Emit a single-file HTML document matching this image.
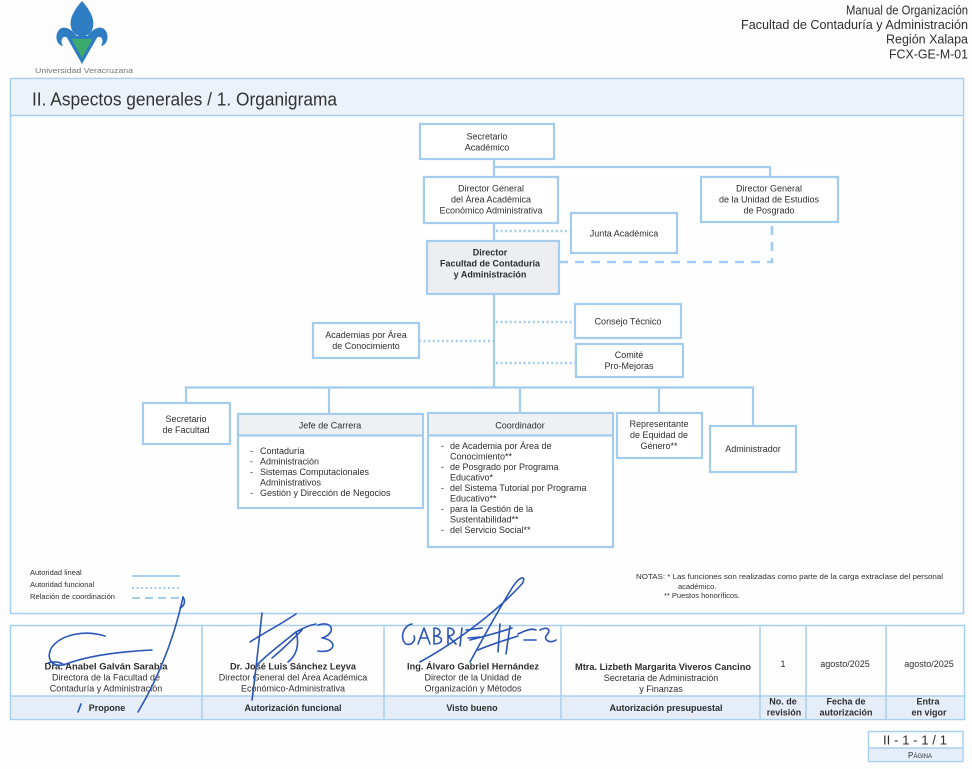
<!DOCTYPE html>
<html><head><meta charset="utf-8">
<style>
html,body{margin:0;padding:0;background:#fdfdfd;}
svg{display:block;}
text{font-family:"Liberation Sans",Arial,sans-serif;fill:#2e2e2e;}
.b{font-weight:bold;}
.box{fill:#fff;stroke:#a3ccef;stroke-width:2.2;}
.ln{stroke:#a3ccef;stroke-width:2.2;fill:none;}
.dot{stroke:#a3ccef;stroke-width:2.6;fill:none;stroke-dasharray:2,2.6;}
.dash{stroke:#a3ccef;stroke-width:2.6;fill:none;stroke-dasharray:9,7;}
.sig{stroke:#2a55b8;stroke-width:1.6;fill:none;stroke-linecap:round;stroke-linejoin:round;}
.tb{stroke:#a9cfee;stroke-width:1.5;}
</style></head>
<body>
<svg width="972" height="769" viewBox="0 0 972 769" xmlns="http://www.w3.org/2000/svg">
<rect width="972" height="769" fill="#fdfdfd"/>

<!-- Logo -->
<g>
  <path d="M82,1 C75,9 69,18 71,27 C72,33 77,36 82,37 C87,36 92,33 93,27 C95,18 89,9 82,1 Z" fill="#2e7dc2"/>
  <path d="M79,40 C74,30 65,25 60,29 C54,34 56,45 63,46 C60,41 62,36 66,37 C71,38 74,42 76,47 Z" fill="#2e7dc2"/>
  <path d="M85,40 C90,30 99,25 104,29 C110,34 108,45 101,46 C104,41 102,36 98,37 C93,38 90,42 88,47 Z" fill="#2e7dc2"/>
  <path d="M66,36 L98,36 L82,64 Z" fill="#2e7dc2"/>
  <path d="M71.5,39 L92.5,39 L82,58 Z" fill="#3caa6b"/>
  <text x="35" y="73" font-size="7.5" textLength="98" lengthAdjust="spacingAndGlyphs" style="fill:#777">Universidad Veracruzana</text>
</g>

<!-- Header right -->
<text x="846" y="14.5" font-size="13" textLength="122" lengthAdjust="spacingAndGlyphs">Manual de Organización</text>
<text x="741" y="29" font-size="13" textLength="227" lengthAdjust="spacingAndGlyphs">Facultad de Contaduría y Administración</text>
<text x="886" y="43.5" font-size="13" textLength="82" lengthAdjust="spacingAndGlyphs">Región Xalapa</text>
<text x="889" y="58.5" font-size="13" textLength="79" lengthAdjust="spacingAndGlyphs">FCX-GE-M-01</text>

<!-- Main frame -->
<rect x="10.5" y="78.5" width="953" height="535" fill="#fefefe" stroke="#a9cfee" stroke-width="1.6"/>
<rect x="11.3" y="79.3" width="951.4" height="36" fill="#ebf2f9"/>
<line x1="10.5" y1="115.5" x2="963.5" y2="115.5" stroke="#a9cfee" stroke-width="1.6"/>
<text x="32" y="105.5" font-size="18" textLength="305" lengthAdjust="spacingAndGlyphs" style="fill:#333">II. Aspectos generales / 1. Organigrama</text>

<!-- Connectors -->
<path class="ln" d="M494,159 V177"/>
<path class="ln" d="M494,167 H770 V177"/>
<path class="ln" d="M494,223 V241"/>
<path class="dot" d="M496,231 H571"/>
<path class="dash" d="M559,262 H772 V222"/>
<path class="ln" d="M494,294 V388"/>
<path class="dot" d="M496,322 H575"/>
<path class="dot" d="M496,363 H576"/>
<path class="dot" d="M419,341 H493"/>
<path class="ln" d="M186,403 V387.5 H753 V426"/>
<path class="ln" d="M329,387 V414"/>
<path class="ln" d="M520,387 V413"/>
<path class="ln" d="M659,387 V413"/>

<!-- Boxes -->
<rect class="box" x="420" y="124" width="134" height="35"/>
<text x="487" y="139.5" font-size="9" text-anchor="middle">Secretario</text>
<text x="487" y="150.5" font-size="9" text-anchor="middle">Académico</text>

<rect class="box" x="424" y="177" width="134" height="46"/>
<text x="491" y="191.5" font-size="9" text-anchor="middle">Director General</text>
<text x="491" y="202.5" font-size="9" text-anchor="middle">del Área Académica</text>
<text x="491" y="213.5" font-size="9" text-anchor="middle">Económico Administrativa</text>

<rect class="box" x="701" y="177" width="137" height="45"/>
<text x="769" y="191.5" font-size="9" text-anchor="middle">Director General</text>
<text x="769" y="202.5" font-size="9" text-anchor="middle">de la Unidad de Estudios</text>
<text x="769" y="213.5" font-size="9" text-anchor="middle">de Posgrado</text>

<rect class="box" x="571" y="213" width="106" height="40"/>
<text x="624" y="236.5" font-size="9" text-anchor="middle">Junta Académica</text>

<rect class="box" x="427" y="241" width="132" height="53" style="fill:#eceef1"/>
<text x="490" y="255.5" font-size="9" text-anchor="middle" class="b">Director</text>
<text x="490" y="266.5" font-size="9" text-anchor="middle" class="b">Facultad de Contaduría</text>
<text x="490" y="277.5" font-size="9" text-anchor="middle" class="b">y Administración</text>

<rect class="box" x="575" y="304" width="106" height="34"/>
<text x="628" y="324.5" font-size="9" text-anchor="middle">Consejo Técnico</text>

<rect class="box" x="576" y="344" width="107" height="33"/>
<text x="629" y="358" font-size="9" text-anchor="middle">Comité</text>
<text x="629" y="369" font-size="9" text-anchor="middle">Pro-Mejoras</text>

<rect class="box" x="313" y="323" width="106" height="35"/>
<text x="366" y="338" font-size="9" text-anchor="middle">Academias por Área</text>
<text x="366" y="349" font-size="9" text-anchor="middle">de Conocimiento</text>

<rect class="box" x="143" y="403" width="87" height="41"/>
<text x="186" y="422" font-size="9" text-anchor="middle">Secretario</text>
<text x="186" y="433" font-size="9" text-anchor="middle">de Facultad</text>

<rect class="box" x="238" y="414" width="185" height="94"/>
<rect x="239.1" y="415.1" width="182.8" height="20" fill="#eef0f2"/>
<line class="ln" x1="238" y1="435.5" x2="423" y2="435.5"/>
<text x="330" y="428.5" font-size="9" text-anchor="middle">Jefe de Carrera</text>
<g font-size="9">
<text x="250" y="454">-</text><text x="260" y="454">Contaduría</text>
<text x="250" y="464.5">-</text><text x="260" y="464.5">Administración</text>
<text x="250" y="475">-</text><text x="260" y="475">Sistemas Computacionales</text>
<text x="260" y="485.5">Administrativos</text>
<text x="250" y="496">-</text><text x="260" y="496">Gestión y Dirección de Negocios</text>
</g>

<rect class="box" x="428" y="413" width="185" height="134"/>
<rect x="429.1" y="414.1" width="182.8" height="21" fill="#eef0f2"/>
<line class="ln" x1="428" y1="435.5" x2="613" y2="435.5"/>
<text x="520" y="428.5" font-size="9" text-anchor="middle">Coordinador</text>
<g font-size="9">
<text x="441" y="449">-</text><text x="450" y="449">de Academia por Área de</text>
<text x="450" y="459.5">Conocimiento**</text>
<text x="441" y="470">-</text><text x="450" y="470">de Posgrado por Programa</text>
<text x="450" y="480.5">Educativo*</text>
<text x="441" y="491">-</text><text x="450" y="491">del Sistema Tutorial por Programa</text>
<text x="450" y="501.5">Educativo**</text>
<text x="441" y="512">-</text><text x="450" y="512">para la Gestión de la</text>
<text x="450" y="522.5">Sustentabilidad**</text>
<text x="441" y="533">-</text><text x="450" y="533">del Servicio Social**</text>
</g>

<rect class="box" x="617" y="413" width="85" height="45"/>
<text x="659" y="427" font-size="9" text-anchor="middle">Representante</text>
<text x="659" y="438" font-size="9" text-anchor="middle">de Equidad de</text>
<text x="659" y="449" font-size="9" text-anchor="middle">Género**</text>

<rect class="box" x="710" y="426" width="86" height="46"/>
<text x="753" y="452" font-size="9" text-anchor="middle">Administrador</text>

<!-- Legend -->
<g font-size="7.5">
<text x="30" y="575">Autoridad lineal</text>
<text x="30" y="587">Autoridad funcional</text>
<text x="30" y="599" textLength="85" lengthAdjust="spacingAndGlyphs">Relación de coordinación</text>
</g>
<line x1="132" y1="576" x2="180" y2="576" stroke="#a3ccef" stroke-width="1.8"/>
<line x1="132" y1="588" x2="180" y2="588" stroke="#a3ccef" stroke-width="2" stroke-dasharray="2,2.5"/>
<line x1="132" y1="598" x2="180" y2="598" stroke="#a3ccef" stroke-width="2" stroke-dasharray="8,5"/>

<!-- Notes -->
<g font-size="7.5">
<text x="636" y="579" textLength="307" lengthAdjust="spacingAndGlyphs">NOTAS: * Las funciones son realizadas como parte de la carga extraclase del personal</text>
<text x="678" y="589">académico.</text>
<text x="664" y="598">** Puestos honoríficos.</text>
</g>

<!-- Footer table -->
<rect x="10.5" y="625.5" width="954" height="94" fill="#fefefe" class="tb"/>
<rect x="11.2" y="696.2" width="952.6" height="22.6" fill="#e4edf8"/>
<line class="tb" x1="10.5" y1="696" x2="964.5" y2="696"/>
<line class="tb" x1="202" y1="625.5" x2="202" y2="719.5"/>
<line class="tb" x1="384" y1="625.5" x2="384" y2="719.5"/>
<line class="tb" x1="561" y1="625.5" x2="561" y2="719.5"/>
<line class="tb" x1="760" y1="625.5" x2="760" y2="719.5"/>
<line class="tb" x1="806" y1="625.5" x2="806" y2="719.5"/>
<line class="tb" x1="886" y1="625.5" x2="886" y2="719.5"/>

<g font-size="9" text-anchor="middle">
<text x="106" y="669.5" class="b" textLength="123" lengthAdjust="spacingAndGlyphs">Dra. Anabel Galván Sarabia</text>
<text x="106" y="680.5">Directora de la Facultad de</text>
<text x="106" y="691.5">Contaduría y Administración</text>
<text x="107" y="711" class="b">Propone</text>

<text x="293" y="669.5" class="b" textLength="126" lengthAdjust="spacingAndGlyphs">Dr. José Luis Sánchez Leyva</text>
<text x="293" y="680.5">Director General del Área Académica</text>
<text x="293" y="691.5">Económico-Administrativa</text>
<text x="293" y="711" class="b">Autorización funcional</text>

<text x="473" y="669.5" class="b" textLength="132" lengthAdjust="spacingAndGlyphs">Ing. Álvaro Gabriel Hernández</text>
<text x="473" y="680.5">Director de la Unidad de</text>
<text x="473" y="691.5">Organización y Métodos</text>
<text x="472" y="711" class="b">Visto bueno</text>

<text x="663" y="670" class="b" textLength="176" lengthAdjust="spacingAndGlyphs">Mtra. Lizbeth Margarita Viveros Cancino</text>
<text x="661" y="681">Secretaria de Administración</text>
<text x="661" y="692">y Finanzas</text>
<text x="666" y="711" class="b">Autorización presupuestal</text>

<text x="783" y="667">1</text>
<text x="783" y="704.5" class="b">No. de</text>
<text x="784" y="715.5" class="b">revisión</text>

<text x="845" y="667">agosto/2025</text>
<text x="846" y="704.5" class="b">Fecha de</text>
<text x="846" y="715.5" class="b">autorización</text>

<text x="929" y="667">agosto/2025</text>
<text x="928" y="704.5" class="b">Entra</text>
<text x="929" y="715.5" class="b">en vigor</text>
</g>

<!-- Page box -->
<rect x="868.5" y="731.5" width="94.5" height="30" fill="#fefefe" class="tb"/>
<rect x="869.2" y="748.5" width="93" height="12.4" fill="#e4edf8"/>
<line class="tb" x1="868.5" y1="748" x2="963" y2="748"/>
<text x="915" y="744.5" font-size="13" text-anchor="middle" textLength="64" lengthAdjust="spacingAndGlyphs">II - 1 - 1 / 1</text>
<text x="920" y="758" font-size="8" text-anchor="middle">P<tspan font-size="6">ÁGINA</tspan></text>

<!-- Signatures -->
<g class="sig">
  <path d="M105,636 C85,630 62,634 52,647 C45,658 52,669 66,664 C85,657 112,652 152,650"/>
  <path d="M183,597 C176,630 162,672 138,712"/>
  <path d="M183,597 C186,602 184,606 180,608"/>
  <path d="M48,663 C55,661 60,662 64,665"/>
  <path d="M81,704 L78,712"/>

  <path d="M262,613 C259,640 256,670 252,700"/>
  <path d="M250,642 C262,634 278,626 296,614"/>
  <path d="M258,664 C270,652 280,645 296,632 C300,645 296,656 288,662"/>
  <path d="M272,658 C282,650 292,640 302,630"/>
  <path d="M296,632 C303,628 310,625 316,624"/>
  <path d="M318,625 C334,620 336,634 322,638 C338,640 336,654 318,651"/>

  <path d="M412,624 C402,626 400,640 406,644 C412,646 416,640 414,636"/>
  <path d="M418,644 L424,628 L430,644 M420,638 L428,638"/>
  <path d="M434,644 L434,628 C442,628 442,636 434,636 C444,636 444,644 434,644"/>
  <path d="M448,644 L448,628 C456,628 456,636 448,636 L456,644"/>
  <path d="M462,628 L460,646"/>
  <path d="M466,630 L482,628 M468,638 L480,637"/>
  <path d="M420,662 C460,640 500,608 520,586 C528,578 522,572 512,588 C496,614 482,640 470,662"/>
  <path d="M470,640 C486,636 500,632 512,628"/>
  <path d="M478,650 C492,644 506,640 518,636"/>
  <path d="M500,624 L498,652 M510,626 L506,654"/>
  <path d="M518,634 C526,630 532,628 536,630"/>
  <path d="M540,630 C548,626 552,630 546,636 C544,640 550,644 556,640"/>
  <path d="M524,640 L536,640"/>
</g>
</svg>
</body></html>
